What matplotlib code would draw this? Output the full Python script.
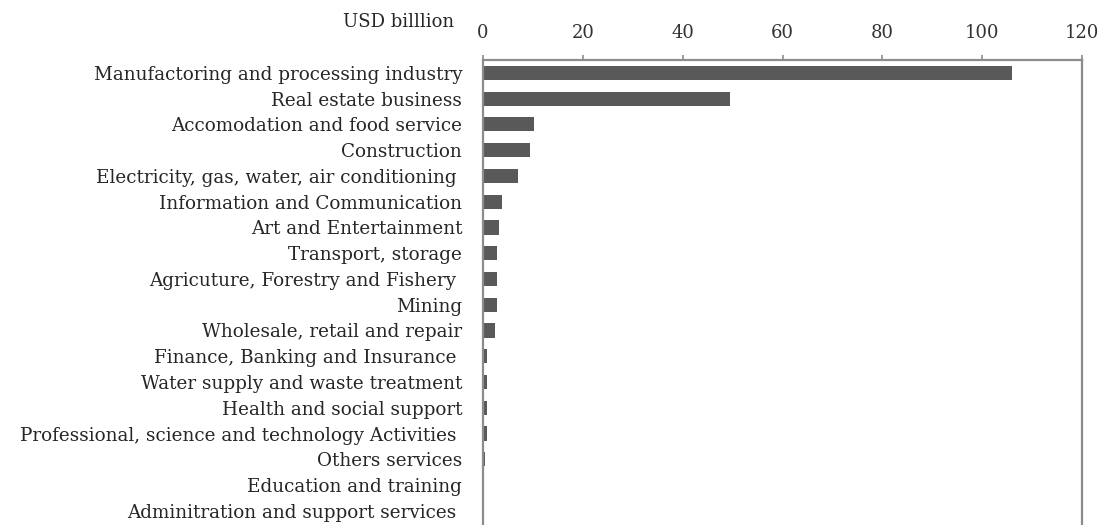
import matplotlib.pyplot as plt

sectors = [
    "Manufactoring and processing industry",
    "Real estate business",
    "Accomodation and food service",
    "Construction",
    "Electricity, gas, water, air conditioning ",
    "Information and Communication",
    "Art and Entertainment",
    "Transport, storage",
    "Agricuture, Forestry and Fishery ",
    "Mining",
    "Wholesale, retail and repair",
    "Finance, Banking and Insurance ",
    "Water supply and waste treatment",
    "Health and social support",
    "Professional, science and technology Activities ",
    "Others services",
    "Education and training",
    "Adminitration and support services ",
]
values = [106.0, 49.5, 10.3, 9.5, 7.1, 3.8, 3.3, 2.9, 2.9, 2.9, 2.5,
          0.9, 0.9, 0.9, 0.9, 0.5, 0.05, 0.05]
xticks = [0, 20, 40, 60, 80, 100, 120]

plt.rcParams['font.family'] = ['DejaVu Serif']

fig = plt.figure(figsize=(11.03, 5.25), dpi=100)
ax = fig.add_axes([483 / 1103, 0.0, (1082 - 483) / 1103, (525 - 60) / 525])

ypos = list(range(len(sectors)))
ax.barh(ypos, values, height=0.55, color='#595959')

ax.set_xlim(0, 120)
ax.set_ylim(17.55, -0.5)
ax.set_yticks(ypos)
ax.set_yticklabels(sectors, fontsize=13.2, color='#262626')
ax.tick_params(axis='y', length=0, pad=15)

ax.xaxis.tick_top()
ax.set_xticks(xticks)
ax.tick_params(axis='x', direction='out', length=3.6, width=1.2, color='#8c8c8c',
               labelsize=13, labelcolor='#333333', pad=9)

for side in ['top', 'left', 'right']:
    ax.spines[side].set_color('#8c8c8c')
    ax.spines[side].set_linewidth(1.6)
ax.spines['bottom'].set_visible(False)

fig.text(454 / 1103, 1 - 22 / 525, "USD billlion", ha='right', va='center',
         fontsize=13, color='#262626')

fig.savefig('out.png', dpi=100)
